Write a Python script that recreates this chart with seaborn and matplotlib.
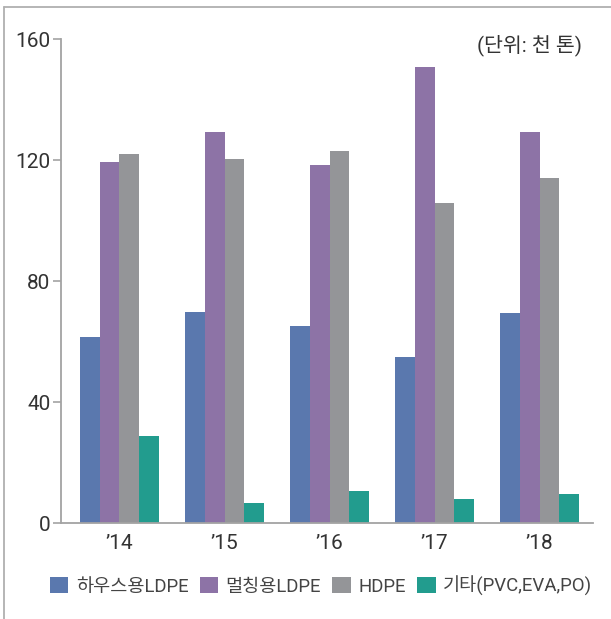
import matplotlib
matplotlib.use("Agg")
import matplotlib.pyplot as plt
from matplotlib.lines import Line2D
import seaborn as sns
import pandas as pd

# Data (unit: thousand tonnes)
years = ["\u201914", "\u201915", "\u201916", "\u201917", "\u201918"]
series = ["하우스용LDPE", "멀칭용LDPE", "HDPE", "기타(PVC,EVA,PO)"]
house_ldpe = [61.6, 69.8, 65.2, 55.0, 69.5]
mulch_ldpe = [119.3, 129.4, 118.3, 151.0, 129.4]
hdpe = [122.0, 120.3, 123.0, 106.0, 114.0]
other = [29.0, 6.7, 10.6, 8.0, 9.6]
colors = ["#5a78ae", "#8d73a6", "#949598", "#229c8e"]
yticks = [0, 40, 80, 120, 160]

rows = []
for name, vals in zip(series, [house_ldpe, mulch_ldpe, hdpe, other]):
    for y, v in zip(years, vals):
        rows.append({"year": y, "series": name, "value": v})
df = pd.DataFrame(rows)

sns.set_theme(style="white")
plt.rcParams["font.family"] = ["Roboto", "Noto Sans CJK KR", "DejaVu Sans"]

fig = plt.figure(figsize=(6.11, 6.19), dpi=100)
ax = fig.add_axes([0.0998, 0.1546, 0.8712, 0.7819])

sns.barplot(data=df, x="year", y="value", hue="series", order=years,
            hue_order=series, palette=colors, width=0.752, gap=0,
            saturation=1, linewidth=0, errorbar=None, ax=ax, legend=False)

ax.set_xlim(-0.557, 4.51)
ax.set_ylim(0, 160)
ax.set_yticks(yticks)
ax.set_xlabel("")
ax.set_ylabel("")

axis_col = "#a3a3a3"
for s in ["top", "right"]:
    ax.spines[s].set_visible(False)
for s in ["left", "bottom"]:
    ax.spines[s].set_color(axis_col)
    ax.spines[s].set_linewidth(1.3)

ax.tick_params(axis="y", length=5.5, width=1.2, color=axis_col, direction="out",
               labelsize=15, labelcolor="#333333", pad=2, left=True)
ax.tick_params(axis="x", length=0, labelsize=15, labelcolor="#333333", pad=8)

# Unit note
fig.text(582 / 611, 1 - 45 / 619, "(단위: 천 톤)", ha="right", va="center",
         fontsize=14.8, color="#333333")

# Legend
handles = [plt.Rectangle((0, 0), 1, 1, color=c, linewidth=0) for c in colors]
fig.legend(handles, series, loc="center", bbox_to_anchor=(321 / 611, 1 - 586 / 619),
           ncol=4, frameon=False, fontsize=13.4, labelcolor="#444444",
           handlelength=1.0, handleheight=0.95, handletextpad=0.4,
           columnspacing=0.6, borderpad=0, borderaxespad=0)

# Outer frame (top and left edges)
frame_col = "#b0b0b0"
fig.add_artist(Line2D([4.3 / 611, 1.0], [1 - 6.7 / 619, 1 - 6.7 / 619],
                      transform=fig.transFigure, color=frame_col, linewidth=1.3))
fig.add_artist(Line2D([4.3 / 611, 4.3 / 611], [0, 1 - 6.7 / 619],
                      transform=fig.transFigure, color=frame_col, linewidth=1.3))

fig.savefig("out.png", dpi=100, facecolor="white")
